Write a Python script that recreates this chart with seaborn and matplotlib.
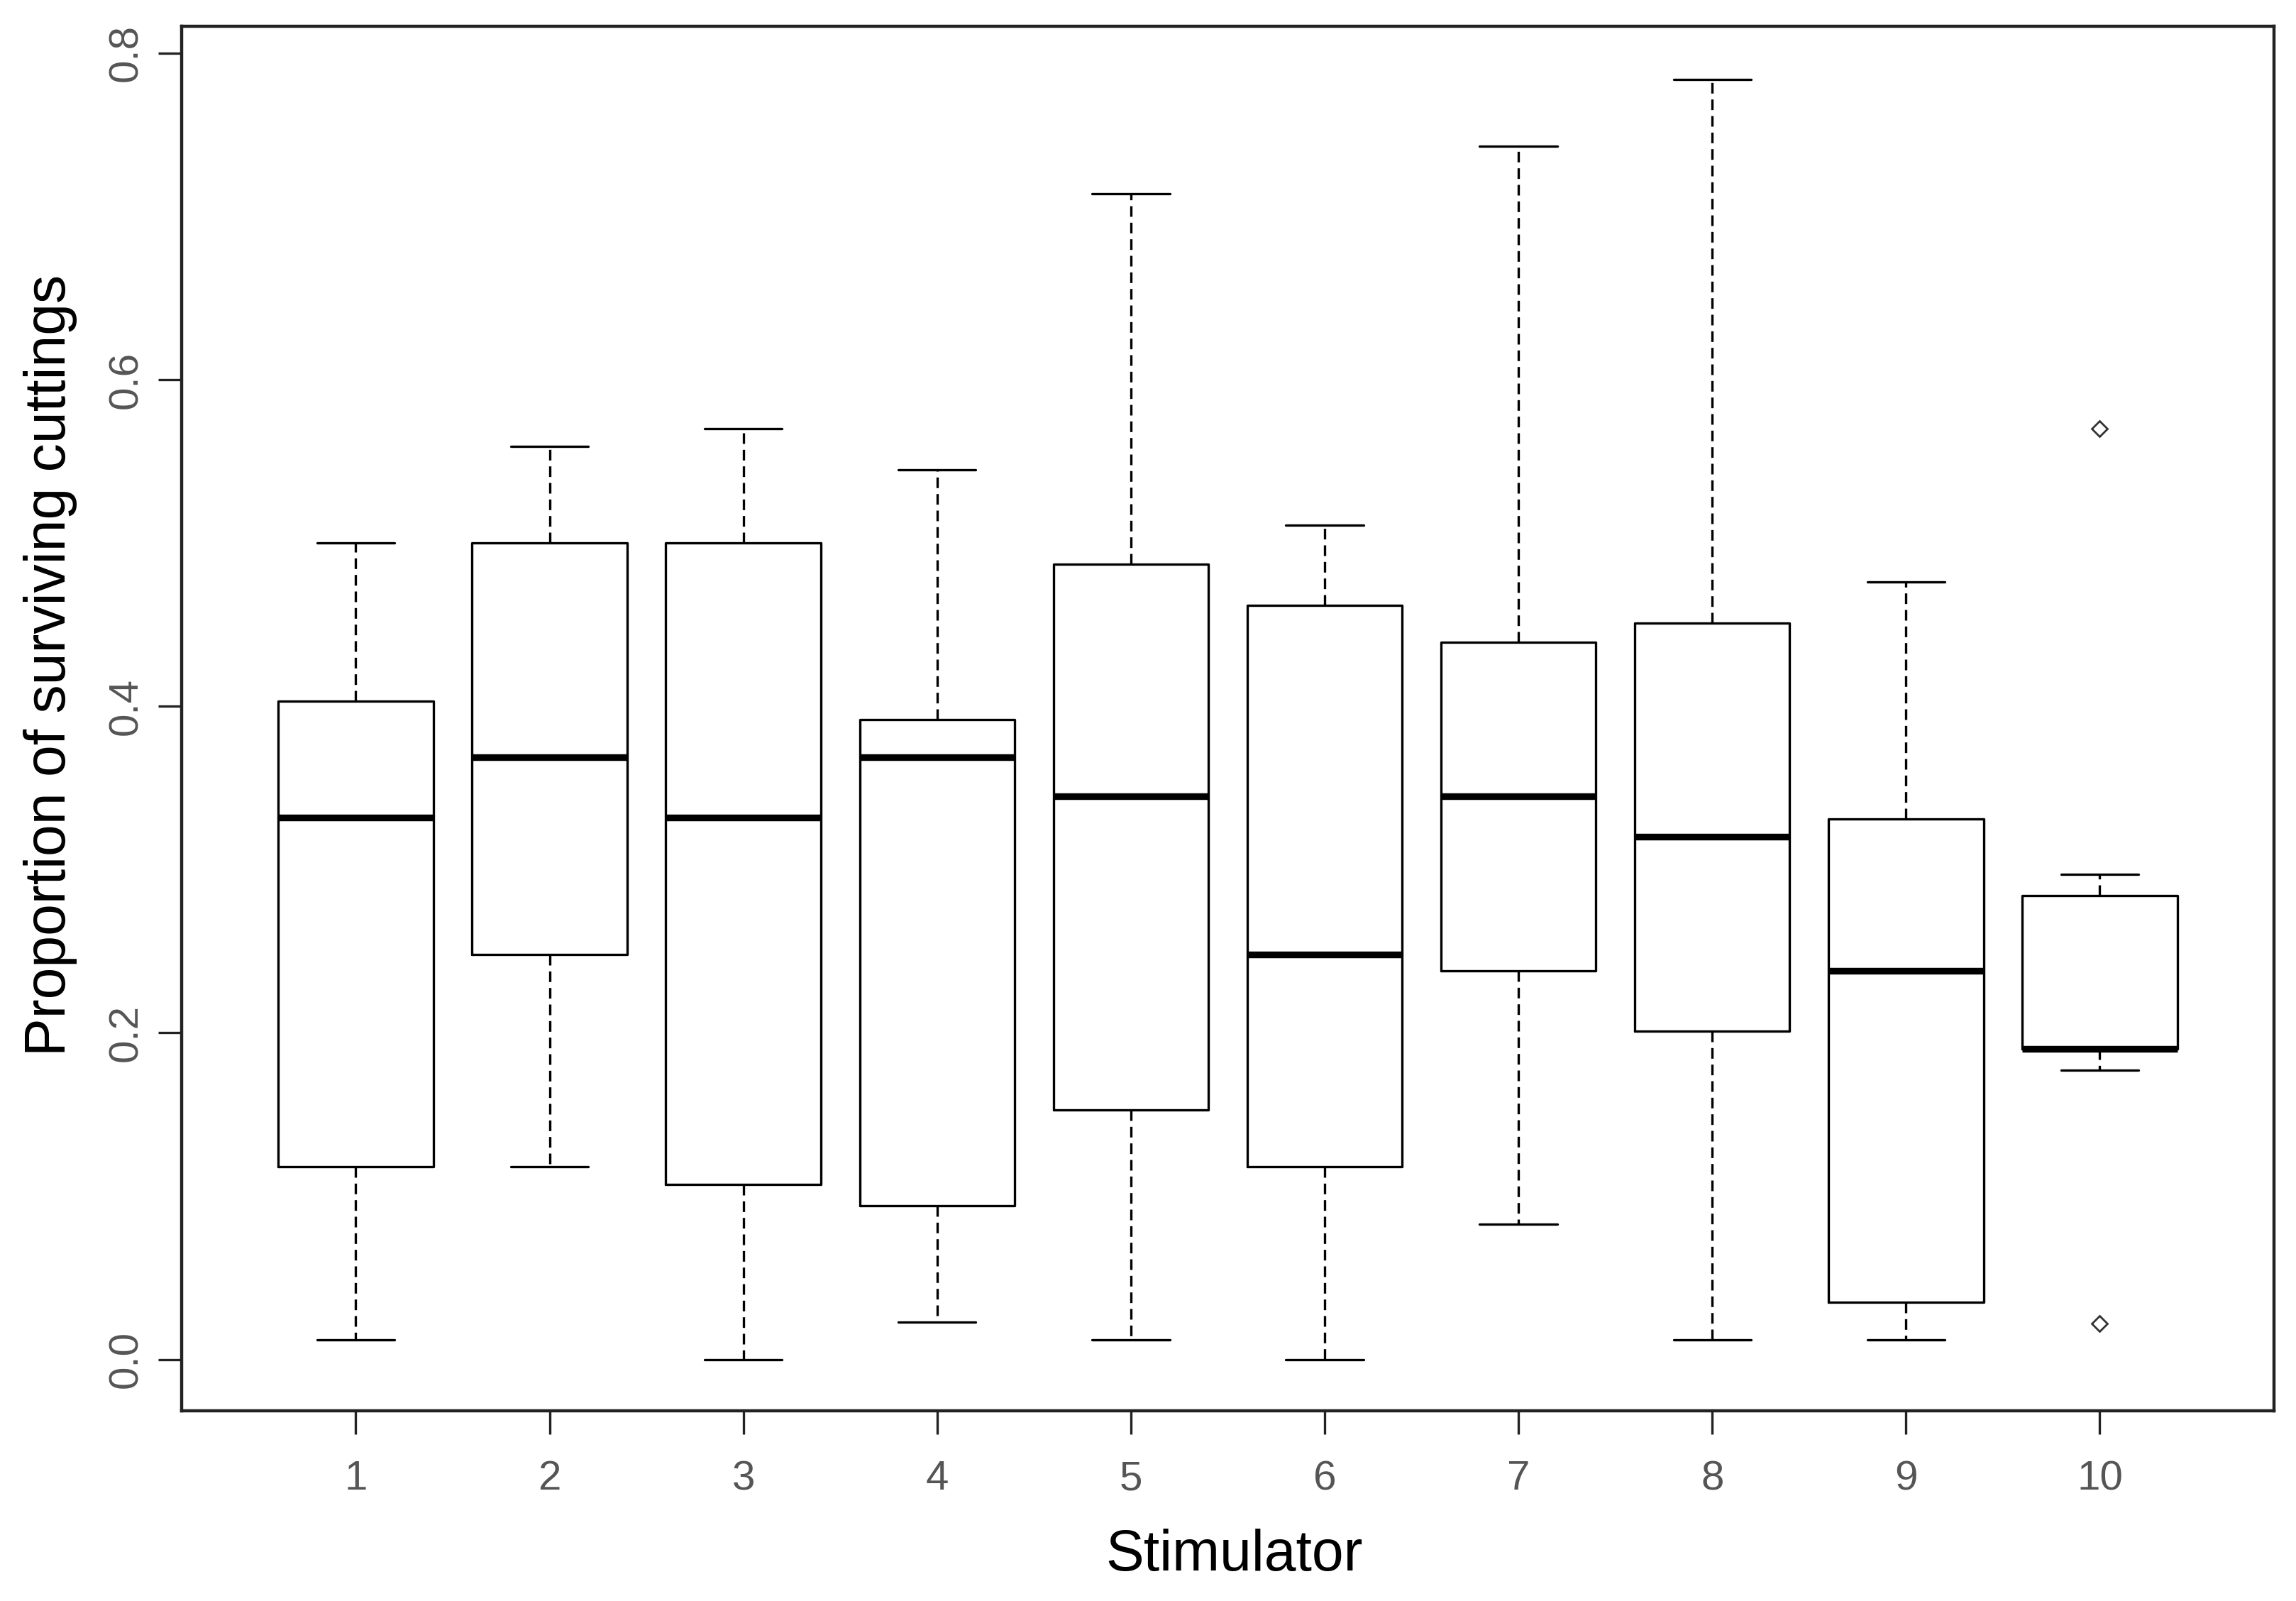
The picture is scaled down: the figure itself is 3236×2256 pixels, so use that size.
import numpy as np
import pandas as pd
import matplotlib
matplotlib.use("Agg")
import matplotlib.pyplot as plt
import seaborn as sns

stim_1 = [0.012, 0.118, 0.332, 0.403, 0.500]
stim_2 = [0.118, 0.248, 0.369, 0.500, 0.559]
stim_3 = [0.000, 0.107, 0.332, 0.500, 0.570]
stim_4 = [0.023, 0.094, 0.369, 0.392, 0.545]
stim_5 = [0.012, 0.153, 0.345, 0.487, 0.714]
stim_6 = [0.000, 0.118, 0.248, 0.462, 0.511]
stim_7 = [0.083, 0.238, 0.345, 0.439, 0.743]
stim_8 = [0.012, 0.201, 0.320, 0.451, 0.784]
stim_9 = [0.012, 0.035, 0.238, 0.331, 0.476]
stim_10 = [0.022, 0.177, 0.190, 0.190, 0.190, 0.284, 0.284, 0.297, 0.570]

groups = ["1", "2", "3", "4", "5", "6", "7", "8", "9", "10"]
values = [stim_1, stim_2, stim_3, stim_4, stim_5, stim_6, stim_7, stim_8, stim_9, stim_10]
y_ticks = [0.0, 0.2, 0.4, 0.6, 0.8]
y_ticklabels = ["0.0", "0.2", "0.4", "0.6", "0.8"]

df = pd.DataFrame({
    "Stimulator": [g for g, v in zip(groups, values) for _ in v],
    "Proportion": [x for v in values for x in v],
})

sns.set_theme(style="white")
plt.rcParams["font.family"] = ["Liberation Sans", "DejaVu Sans"]

fig = plt.figure(figsize=(16.18, 11.28), dpi=200)
ax = fig.add_axes([0.079, 0.1188, 0.9115, 0.8648])

lw = 1.2
sns.boxplot(
    data=df, x="Stimulator", y="Proportion", order=groups,
    ax=ax, width=0.8, whis=1.6, fill=False, color="black", linewidth=lw,
    boxprops=dict(color="black", linewidth=lw),
    whiskerprops=dict(color="black", linewidth=lw, linestyle=(0, (4.5, 2.5))),
    capprops=dict(color="black", linewidth=lw),
    medianprops=dict(color="black", linewidth=3.4),
    flierprops=dict(marker="D", markersize=5.5, markerfacecolor="none",
                    markeredgecolor="#333333", markeredgewidth=1.0),
)

ax.set_xlim(-0.9, 9.9)
ax.set_ylim(-0.0314, 0.8164)
ax.set_yticks(y_ticks)
ax.set_yticklabels(y_ticklabels, rotation=90, va="center")

for s in ax.spines.values():
    s.set_visible(True)
    s.set_color("#222222")
    s.set_linewidth(1.6)

ax.tick_params(axis="both", which="major", length=12, width=1.2, color="#222222",
               direction="out", labelsize=21, labelcolor="#555555", bottom=True, left=True)
ax.tick_params(axis="x", pad=13)
ax.tick_params(axis="y", pad=6)

ax.set_xlabel("Stimulator", fontsize=29, color="black")
ax.set_ylabel("Proportion of surviving cuttings", fontsize=29, color="black")
ax.xaxis.set_label_coords(0.503, -0.085)
ax.yaxis.set_label_coords(-0.0496, 0.5386)
ax.grid(False)

fig.savefig("out.png", dpi=200, facecolor="white")
